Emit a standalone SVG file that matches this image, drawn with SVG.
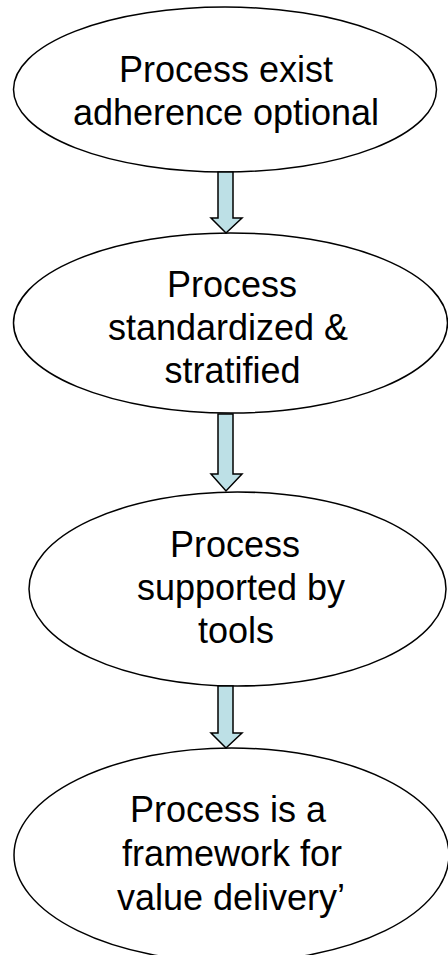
<svg xmlns="http://www.w3.org/2000/svg" width="448" height="955" viewBox="0 0 448 955">
  <style>
    .stage { fill: #ffffff; stroke: #000000; stroke-width: 1.5; }
    .label { font-family: "Liberation Sans", Arial, sans-serif; font-size: 36px; fill: #000000; text-anchor: middle; }
    .step { fill: #bde0e6; stroke: #000000; stroke-width: 1.5; stroke-linejoin: miter; }
  </style>
  <rect width="448" height="955" fill="#ffffff"/>

  <!-- stages -->
  <g id="stage1">
    <ellipse class="stage" cx="225" cy="89.5" rx="211.5" ry="82.5"/>
    <text class="label" x="226" y="82">Process exist</text>
    <text class="label" x="226" y="125">adherence optional</text>
  </g>
  <g id="stage2">
    <ellipse class="stage" cx="230.5" cy="323" rx="217" ry="90"/>
    <text class="label" x="232" y="297">Process</text>
    <text class="label" x="228" y="340">standardized &amp;</text>
    <text class="label" x="232.5" y="383">stratified</text>
  </g>
  <g id="stage3">
    <ellipse class="stage" cx="237.5" cy="589" rx="208.5" ry="97"/>
    <text class="label" x="235" y="557">Process</text>
    <text class="label" x="241" y="600">supported by</text>
    <text class="label" x="236" y="643">tools</text>
  </g>
  <g id="stage4">
    <ellipse class="stage" cx="231.5" cy="855" rx="217.5" ry="107"/>
    <text class="label" x="228" y="822">Process is a</text>
    <text class="label" x="232" y="866">framework for</text>
    <text class="label" x="231" y="910">value delivery’</text>
  </g>

  <!-- block arrows between stages -->
  <g id="connectors">
    <path class="step" d="M218,172 H233 V218 H242 L226,233 L211,218 H218 Z"/>
    <path class="step" d="M218,414 H233 V474 H242 L226,491 L211,474 H218 Z"/>
    <path class="step" d="M218,686 H233 V733 H242 L226,748 L211,733 H218 Z"/>
  </g>
</svg>
